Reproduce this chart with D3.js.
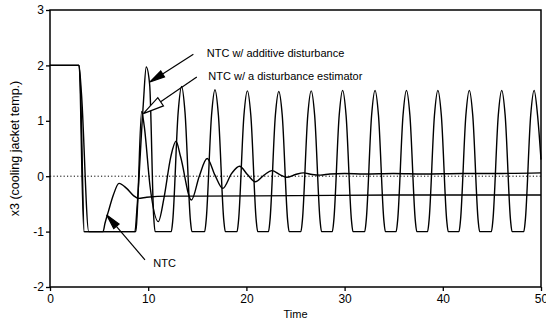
<!DOCTYPE html>
<html>
<head>
<meta charset="utf-8">
<script src="https://cdn.jsdelivr.net/npm/d3@7"></script>
<style>
  body { margin: 0; background: #fff; }
  svg { font-family: "Liberation Sans", Arial, sans-serif; }
  .tick text { font-size: 12px; fill: #000; }
  .tick line { stroke: #000; stroke-width: 1.3; }
  .curve { fill: none; stroke: #000; stroke-width: 1.4; }
</style>
</head>
<body>
<svg width="546" height="323"></svg>
<script>
// data (time, x3)
const ntc = [[0, 2], [2.95, 2], [3.45, -1], [5.4, -1], [5.6, -0.85], [5.94, -0.64],
  [6.45, -0.34], [7.03, -0.13], [7.8, -0.22], [8.5, -0.35], [9.0, -0.4], [9.85, -0.38],
  [12, -0.36], [15.3, -0.36], [25, -0.35], [35, -0.34], [50, -0.34]];

const estimator = [[0, 2], [2.95, 2], [3.2, 1.5], [3.95, -1], [8.75, -1], [8.9, -0.6],
  [9.33, 1.17], [9.6, 0.9], [10.2, -0.2], [11.03, -0.82], [11.6, -0.4], [12.3, 0.35],
  [12.83, 0.63], [13.3, 0.35], [14.4, -0.43], [15.2, 0.0], [16.0, 0.32], [16.8, 0.02],
  [17.6, -0.22], [18.5, 0.05], [19.3, 0.18], [20.1, 0.03], [20.9, -0.1], [21.8, 0.02],
  [22.6, 0.1], [23.4, 0.03], [24.1, -0.02], [25.0, 0.03], [25.8, 0.06], [26.7, 0.03],
  [27.5, 0.02], [28.5, 0.04], [30, 0.05], [32, 0.04], [35, 0.05], [38, 0.04],
  [42, 0.05], [46, 0.05], [50, 0.06]];

const additive = [[0, 2], [2.95, 2], [3.1, 1.6], [3.5, -1], [8.65, -1], [8.85, -0.6],
  [9.5, 1.3], [9.8, 1.97], [10.15, 1.65], [10.55, -0.7], [10.7, -1],
  [12.35, -1], [12.5, -0.8], [13.05, 1.15], [13.4, 1.62], [13.75, 1.15], [14.3, -0.8], [14.45, -1],
  [15.75, -1], [15.9, -0.8], [16.45, 1.1], [16.8, 1.56], [17.15, 1.1], [17.7, -0.8], [17.85, -1],
  [19.05, -1], [19.2, -0.8], [19.75, 1.1], [20.1, 1.54], [20.45, 1.1], [21.0, -0.8], [21.15, -1],
  [22.25, -1], [22.4, -0.8], [22.95, 1.1], [23.3, 1.53], [23.65, 1.1], [24.2, -0.8], [24.35, -1],
  [25.55, -1], [25.7, -0.8], [26.25, 1.1], [26.6, 1.54], [26.95, 1.1], [27.5, -0.8], [27.65, -1],
  [28.75, -1], [28.9, -0.8], [29.45, 1.1], [29.8, 1.55], [30.15, 1.1], [30.7, -0.8], [30.85, -1],
  [32.05, -1], [32.2, -0.8], [32.75, 1.1], [33.1, 1.55], [33.45, 1.1], [34.0, -0.8], [34.15, -1],
  [35.25, -1], [35.4, -0.8], [35.95, 1.1], [36.3, 1.55], [36.65, 1.1], [37.2, -0.8], [37.35, -1],
  [38.45, -1], [38.6, -0.8], [39.15, 1.1], [39.5, 1.55], [39.85, 1.1], [40.4, -0.8], [40.55, -1],
  [41.65, -1], [41.8, -0.8], [42.35, 1.1], [42.7, 1.55], [43.05, 1.1], [43.6, -0.8], [43.75, -1],
  [44.95, -1], [45.1, -0.8], [45.65, 1.1], [46.0, 1.55], [46.35, 1.1], [46.9, -0.8], [47.05, -1],
  [48.25, -1], [48.4, -0.8], [48.95, 1.1], [49.3, 1.55], [49.65, 1.1], [50, 0.3]];

const xTicks = [0, 10, 20, 30, 40, 50];
const yTicks = [-2, -1, 0, 1, 2, 3];

// annotations: [tip, tail] in data units, arrow style
const arrows = [
  { tip: [10.18, 1.70], tail: [14.6, 2.2], filled: true },
  { tip: [9.5, 1.13], tail: [14.95, 1.79], filled: false },
  { tip: [5.77, -0.70], tail: [9.67, -1.51], filled: true }
];
const labels = [
  { text: "NTC w/ additive disturbance", at: [15.96, 2.15] },
  { text: "NTC w/ a disturbance estimator", at: [16.12, 1.73] },
  { text: "NTC", at: [10.52, -1.64] }
];

const svg = d3.select("svg");

const x = d3.scaleLinear().domain([0, 50]).range([50, 541]);
const y = d3.scaleLinear().domain([-2, 3]).range([287, 10]);

// zero reference
svg.append("line")
  .attr("x1", x(0)).attr("x2", x(50))
  .attr("y1", y(0)).attr("y2", y(0))
  .attr("stroke", "#000")
  .attr("stroke-width", 1)
  .attr("stroke-dasharray", "1.2,2.2");

const line = d3.line()
  .x(d => x(d[0]))
  .y(d => y(d[1]))
  .curve(d3.curveMonotoneX);

[ntc, estimator, additive].forEach(s => {
  svg.append("path")
    .datum(s)
    .attr("class", "curve")
    .attr("d", line);
});

// axes (plain hyphen for negatives, as in the original)
const plain = d => String(d);

svg.append("g")
  .attr("transform", "translate(0," + y(-2) + ")")
  .call(d3.axisBottom(x).tickValues(xTicks).tickFormat(plain).tickSize(4).tickPadding(3))
  .call(g => g.select(".domain").remove());

svg.append("g")
  .attr("transform", "translate(" + x(0) + ",0)")
  .call(d3.axisLeft(y).tickValues(yTicks).tickFormat(plain).tickSize(4).tickPadding(2))
  .call(g => g.select(".domain").remove());

svg.append("rect")
  .attr("x", x(0)).attr("y", y(3))
  .attr("width", x(50) - x(0))
  .attr("height", y(-2) - y(3))
  .attr("fill", "none")
  .attr("stroke", "#000")
  .attr("stroke-width", 1.5);

svg.append("text")
  .attr("x", (x(0) + x(50)) / 2)
  .attr("y", 318)
  .attr("text-anchor", "middle")
  .style("font-size", "11px")
  .text("Time");

svg.append("text")
  .attr("transform", "translate(19," + (y(-2) + y(3)) / 2 + ") rotate(-90)")
  .attr("text-anchor", "middle")
  .style("font-size", "12.5px")
  .text("x3 (cooling jacket temp.)");

// arrows
arrows.forEach(a => {
  const x1 = x(a.tail[0]), y1 = y(a.tail[1]);
  const x2 = x(a.tip[0]), y2 = y(a.tip[1]);
  const ang = Math.atan2(y2 - y1, x2 - x1);
  const len = a.filled ? 15 : 21;
  const half = a.filled ? 3.5 : 5;
  const bx = x2 - len * Math.cos(ang), by = y2 - len * Math.sin(ang);
  const px = -Math.sin(ang) * half, py = Math.cos(ang) * half;
  svg.append("line")
    .attr("x1", x1).attr("y1", y1)
    .attr("x2", bx).attr("y2", by)
    .attr("stroke", "#000")
    .attr("stroke-width", 1.2);
  svg.append("path")
    .attr("d", "M" + x2 + "," + y2 + "L" + (bx + px) + "," + (by + py) +
      "L" + (bx - px) + "," + (by - py) + "Z")
    .attr("fill", a.filled ? "#000" : "#fff")
    .attr("stroke", "#000")
    .attr("stroke-width", 1.2);
});

svg.selectAll(".label")
  .data(labels)
  .enter()
  .append("text")
  .attr("class", "label")
  .attr("x", d => x(d.at[0]))
  .attr("y", d => y(d.at[1]))
  .style("font-size", "11px")
  .text(d => d.text);
</script>
</body>
</html>
